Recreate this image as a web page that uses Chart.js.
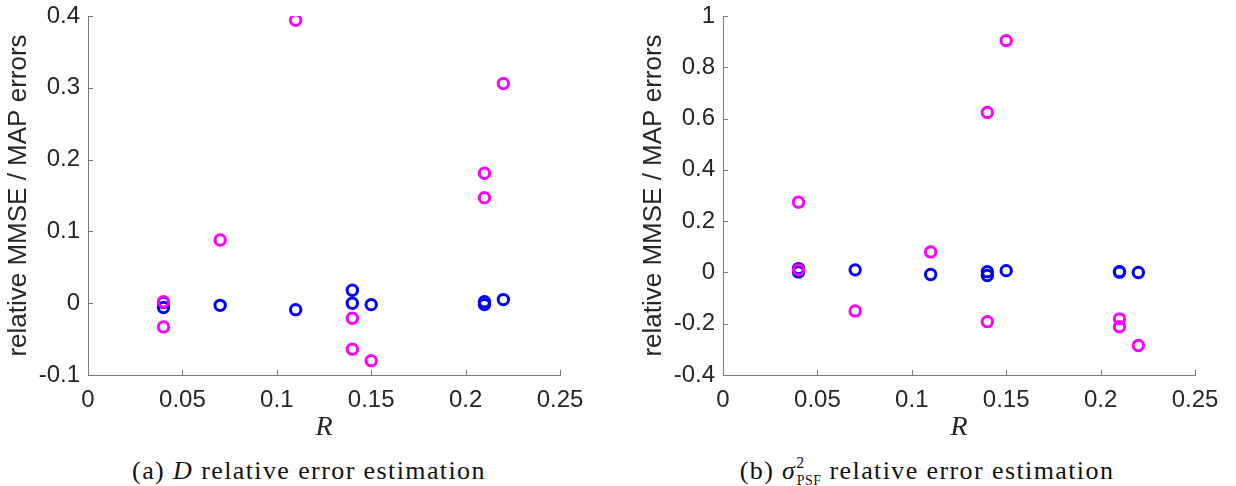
<!DOCTYPE html>
<html>
<head>
<meta charset="utf-8">
<script src="https://cdn.jsdelivr.net/npm/chart.js@4.4.1/dist/chart.umd.min.js"></script>
<style>
  body { margin: 0; background: #fff; width: 1236px; height: 486px; overflow: hidden; position: relative; }
  .panel { position: absolute; top: 0; width: 618px; height: 444px; }
  .caption { position: absolute; top: 456px; width: 618px; text-align: center; line-height: 30px;
             font-family: "Liberation Serif", serif; font-size: 26px; letter-spacing: 1.4px; color: #111; }
  .caption i { font-style: italic; }
  .caption .sup { font-size: 16px; position: relative; top: -11px; }
  .caption .sub { font-size: 14px; position: relative; top: 6px; margin-left: -9px; letter-spacing: 0.5px; }
</style>
</head>
<body>
<div class="panel" style="left:0"><canvas id="chartD"></canvas></div>
<div class="panel" style="left:618px"><canvas id="chartSigma"></canvas></div>
<div class="caption" style="left:0">(a) <i>D</i> relative error estimation</div>
<div class="caption" style="left:618px">(b) <i>σ</i><span class="sup">2</span><span class="sub">PSF</span> relative error estimation</div>

<script>
// R values shared by both panels
const rValues = [0.04, 0.04, 0.07, 0.11, 0.14, 0.14, 0.15, 0.21, 0.21, 0.22];

// (a) D relative errors
const dBlue    = [0.001, -0.006, -0.003, -0.009, 0.018, 0.000, -0.002, 0.002, -0.002, 0.005];
const dMagenta = [0.002, -0.033, 0.088, 0.394, -0.021, -0.064, -0.080, 0.181, 0.147, 0.306];

// (b) sigma^2_PSF relative errors
const sBlue    = [0.015, 0.002, 0.010, -0.008, 0.003, -0.012, 0.007, 0.003, 0.001, 0.000];
const sMagenta = [0.274, 0.010, -0.150, 0.080, 0.624, -0.192, 0.904, -0.181, -0.212, -0.285];

const xTicks = [0, 0.05, 0.1, 0.15, 0.2, 0.25];

function toPoints(xs, ys) {
    return xs.map((x, i) => ({ x: x, y: ys[i] }));
}

function fmt(v) {
    return String(parseFloat(Number(v).toFixed(2)));
}

// MATLAB style inward tick marks
const innerTicks = {
    id: 'innerTicks',
    afterDraw(chart) {
        const c = chart.ctx, xs = chart.scales.x, ys = chart.scales.y;
        const a = chart.chartArea;
        c.save();
        c.strokeStyle = '#7a7a7a';
        c.lineWidth = 1;
        c.beginPath();
        xs.ticks.forEach(t => {
            const px = Math.round(xs.getPixelForValue(t.value)) + 0.5;
            c.moveTo(px, a.bottom);
            c.lineTo(px, a.bottom - 5);
        });
        ys.ticks.forEach(t => {
            const py = Math.round(ys.getPixelForValue(t.value)) + 0.5;
            c.moveTo(a.left, py);
            c.lineTo(a.left + 5, py);
        });
        c.stroke();
        c.restore();
    }
};

function makeChart(id, blue, magenta, yMin, yMax, yStep, padLeft, padRight, yWidth) {
    return new Chart(document.getElementById(id), {
        type: 'scatter',
        data: {
            datasets: [
                {
                    data: toPoints(rValues, magenta),
                    borderColor: '#ff00ff',
                    backgroundColor: 'rgba(0,0,0,0)',
                    pointRadius: 5.2,
                    pointBorderWidth: 3
                },
                {
                    data: toPoints(rValues, blue),
                    borderColor: '#0000ff',
                    backgroundColor: 'rgba(0,0,0,0)',
                    pointRadius: 5.2,
                    pointBorderWidth: 3
                }
            ]
        },
        options: {
            responsive: false,
            animation: false,
            layout: { padding: { left: padLeft, right: padRight, top: 16, bottom: 0 } },
            plugins: { legend: { display: false }, tooltip: { enabled: false } },
            scales: {
                x: {
                    type: 'linear',
                    min: 0, max: 0.25,
                    afterBuildTicks: s => { s.ticks = xTicks.map(v => ({ value: v })); },
                    afterFit: s => { s.height = 69; s.paddingLeft = 0; s.paddingRight = 0; },
                    grid: { display: false, drawTicks: false },
                    border: { display: true, color: '#7a7a7a', width: 1 },
                    ticks: { color: '#262626', padding: 11, callback: fmt,
                             font: { family: 'Liberation Sans', size: 24 } },
                    title: {
                        display: true, text: 'R', color: '#262626',
                        padding: { top: 0, bottom: 0 },
                        font: { family: 'Liberation Serif', size: 28, style: 'italic' }
                    }
                },
                y: {
                    min: yMin, max: yMax,
                    afterFit: s => { s.width = yWidth; s.paddingTop = 0; s.paddingBottom = 0; },
                    grid: { display: false, drawTicks: false },
                    border: { display: true, color: '#7a7a7a', width: 1 },
                    ticks: { stepSize: yStep, color: '#262626', padding: 8, callback: fmt,
                             font: { family: 'Liberation Sans', size: 24 } },
                    title: {
                        display: true, text: 'relative MMSE / MAP errors', color: '#262626',
                        padding: { top: 3, bottom: 0 },
                        font: { family: 'Liberation Sans', size: 26 }
                    }
                }
            }
        },
        plugins: [innerTicks]
    });
}

['chartD', 'chartSigma'].forEach(id => {
    const cv = document.getElementById(id);
    cv.width = 618;
    cv.height = 444;
});

makeChart('chartD', dBlue, dMagenta, -0.1, 0.4, 0.1, 0, 58, 88);
makeChart('chartSigma', sBlue, sMagenta, -0.4, 1, 0.2, 17, 41, 88);
</script>
</body>
</html>
